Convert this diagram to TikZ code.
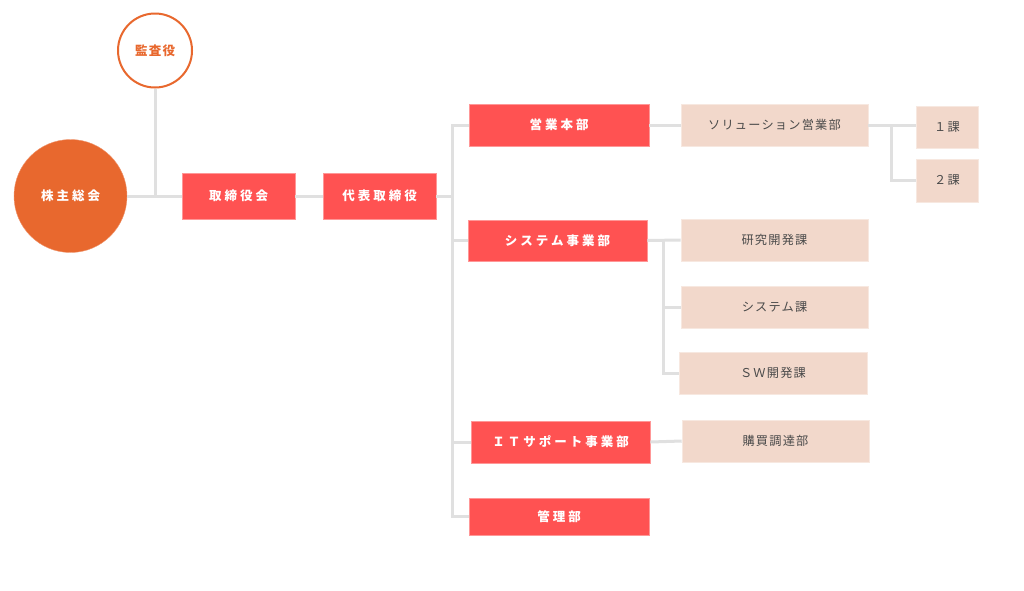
\documentclass[tikz,border=0pt]{standalone}
\usepackage{fontspec}
\newfontfamily\jpwide[LetterSpace=24]{Noto Sans CJK JP}
\newfontfamily\jpnarrow[LetterSpace=10]{Noto Sans CJK JP}
\definecolor{headred}{HTML}{FF5252}
\definecolor{unitpink}{HTML}{F2D8CB}
\definecolor{rootorange}{HTML}{E8682E}
\definecolor{linegray}{HTML}{E0E0E0}
\definecolor{unittext}{HTML}{4A4A4A}

\begin{document}
\begin{tikzpicture}[
            x=1pt, y=-1pt,
            conn/.style={draw=linegray, line width=3pt},
            head/.style={fill=headred, draw=headred!60!white, line width=0.6pt, text=white, inner sep=0pt,
                minimum width=180pt, minimum height=42pt, font=\jpwide\bfseries\fontsize{12.5}{14}\selectfont},
            unit/.style={fill=unitpink, draw=unitpink!60!white, line width=0.6pt, text=unittext, inner sep=0pt,
                minimum width=187pt, minimum height=42pt, font=\jpnarrow\fontsize{12.2}{14}\selectfont},
            root/.style={circle, fill=rootorange, draw=rootorange!70!white, text=white, inner sep=0pt,
                minimum size=113pt, font=\jpwide\bfseries\fontsize{12.5}{14}\selectfont},
            audit/.style={circle, fill=white, draw=rootorange, line width=2pt, text=rootorange, inner sep=0pt,
                minimum size=74pt, font=\jpnarrow\bfseries\fontsize{12.5}{14}\selectfont},
        ]
        \useasboundingbox[fill=white] (0,0) rectangle (1024,590);
        % TOP LEVEL
        \node[root] (gm) at (70.5,196) {株主総会};
        \node[audit] (kansa) at (155,50.5) {監査役};
        \node[head, minimum width=113pt, minimum height=46pt] (board) at (238.5,196) {取締役会};
        \node[head, minimum width=113pt, minimum height=46pt] (ceo) at (379.5,196) {代表取締役};
        % DIVISIONS
        \node[head] (sales) at (559,125) {営業本部};
        \node[head, minimum width=179pt, minimum height=41pt] (sysdiv) at (557.5,240.5) {システム事業部};
        \node[head, minimum width=179pt] (itsup) at (560.5,442) {ＩＴサポート事業部};
        \node[head, minimum height=37pt] (admin) at (559,516.5) {管理部};
        % UNITS
        \node[unit] (solution) at (774.5,125) {ソリューション営業部};
        \node[unit, minimum width=62pt] (sec1) at (947,127) {１課};
        \node[unit, minimum width=62pt, minimum height=43pt] (sec2) at (947,180.5) {２課};
        \node[unit] (research) at (774.5,240) {研究開発課};
        \node[unit] (systemka) at (774.5,307) {システム課};
        \node[unit, minimum width=188pt] (swdev) at (773,373) {ＳＷ開発課};
        \node[unit] (purchase) at (775.5,441) {購買調達部};
        % CONNECTORS
        \draw[conn] (gm.east) -- (board.west);
        \draw[conn] (kansa.south) -- (kansa.south |- board.west);
        \draw[conn] (board.east) -- (ceo.west);
        \draw[conn] (ceo.east) -- ++(16,0) coordinate (trunk);
        \foreach \d in {sales,sysdiv,itsup,admin} {
            \draw[conn] (trunk) |- (\d.west);
        }
        \draw[conn] (sales.east) -- (solution.west);
        \draw[conn] (solution.east) -- (solution.east -| sec1.west);
        \draw[conn] (solution.east) ++(23,0) coordinate (br1) |- (sec2.west);
        \draw[conn] (sysdiv.east) -- (research.west);
        \draw[conn] (sysdiv.east) ++(16,0) coordinate (br2) |- (swdev.west);
        \draw[conn] (br2) |- (systemka.west);
        \draw[conn] (itsup.east) -- (purchase.west);
        \end{tikzpicture}
\end{document}
